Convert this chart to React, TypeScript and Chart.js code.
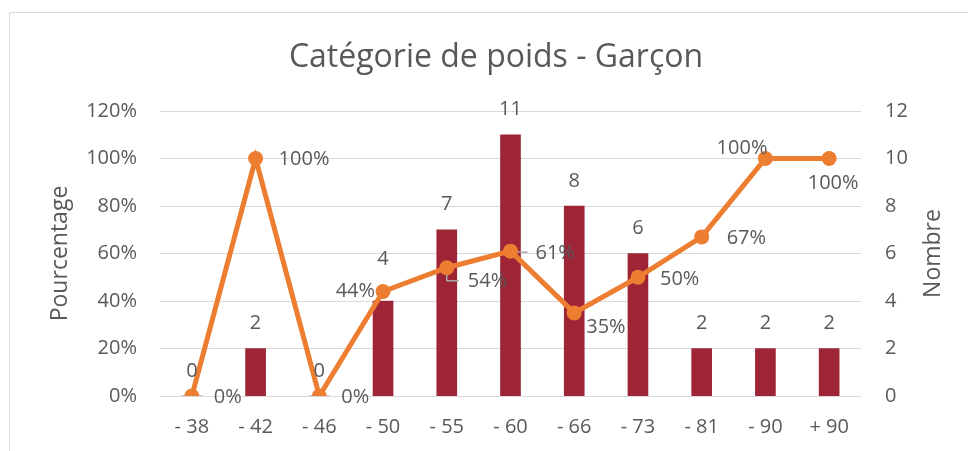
import React, { useEffect, useRef } from 'react';
import { Chart, registerables } from 'chart.js';

Chart.register(...registerables);

// ---- data ----
const categories = ['- 38', '- 42', '- 46', '- 50', '- 55', '- 60', '- 66', '- 73', '- 81', '- 90', '+ 90'];
const nombre = [0, 2, 0, 4, 7, 11, 8, 6, 2, 2, 2];
const pourcentage = [0, 1, 0, 0.44, 0.54, 0.61, 0.35, 0.5, 0.67, 1, 1];
const leftTickLabels = ['0%', '20%', '40%', '60%', '80%', '100%', '120%'];
const rightTickLabels = ['0', '2', '4', '6', '8', '10', '12'];
const chartTitle = 'Catégorie de poids - Garçon';
const leftAxisTitle = 'Pourcentage';
const rightAxisTitle = 'Nombre';

// ---- label styling (placement only) ----
const barLabelGap = [25, 25, 25, 42, 25, 25, 25, 25, 25, 25, 25];
const lineLabelAlign = ['left', 'left', 'left', 'right', 'left', 'left', 'left', 'left', 'left', 'right', 'center'];
const lineLabelDx = [22, 23, 22, -8, 21, 25, 12, 22, 25, 2, 4];
const lineLabelDy = [1, 1, 1, 0, 14, 2, 14, 2, 1, -10, 25];
const lineLabelLeader = ['', '', '', '', 'elbow', 'horiz', '', '', '', '', ''];

const TEXT = '#595959';
const GRID = '#D9D9D9';
const BAR = '#9E2536';
const LINE = '#ED7D31';
const FONT = "'Open Sans', sans-serif";

const decorPlugin = {
  id: 'decor',
  beforeDraw(chart: any) {
    const { ctx, width, height } = chart;
    ctx.save();
    ctx.fillStyle = '#ffffff';
    ctx.fillRect(0, 0, width, height);
    ctx.strokeStyle = GRID;
    ctx.lineWidth = 1;
    ctx.beginPath();
    ctx.moveTo(9.5, height);
    ctx.lineTo(9.5, 12.5);
    ctx.lineTo(width, 12.5);
    ctx.stroke();
    ctx.restore();
  },
  afterDraw(chart: any) {
    const { ctx, chartArea } = chart;
    ctx.save();
    ctx.fillStyle = TEXT;
    ctx.textAlign = 'center';
    ctx.textBaseline = 'middle';
    ctx.font = `32px ${FONT}`;
    ctx.fillText(chartTitle, 496, 58);
    const cy = (chartArea.top + chartArea.bottom) / 2;
    ctx.font = `23px ${FONT}`;
    ctx.save();
    ctx.translate(60, cy);
    ctx.rotate(-Math.PI / 2);
    ctx.fillText(leftAxisTitle, 0, 0);
    ctx.restore();
    ctx.save();
    ctx.translate(933, cy);
    ctx.rotate(-Math.PI / 2);
    ctx.fillText(rightAxisTitle, 0, 0);
    ctx.restore();
    ctx.restore();
  },
  afterDatasetsDraw(chart: any) {
    const { ctx } = chart;
    const yR = chart.scales.yR;
    ctx.save();
    ctx.font = `20px ${FONT}`;
    ctx.fillStyle = TEXT;
    ctx.textBaseline = 'middle';
    // bar labels
    const barMeta = chart.getDatasetMeta(1);
    barMeta.data.forEach((el: any, i: number) => {
      ctx.textAlign = 'center';
      ctx.fillText(String(nombre[i]), el.x, yR.getPixelForValue(nombre[i]) - barLabelGap[i]);
    });
    // line labels
    const lineMeta = chart.getDatasetMeta(0);
    lineMeta.data.forEach((el: any, i: number) => {
      const px = el.x;
      const py = el.y;
      const leader = lineLabelLeader[i];
      if (leader) {
        ctx.save();
        ctx.strokeStyle = '#A6A6A6';
        ctx.lineWidth = 1.5;
        ctx.beginPath();
        if (leader === 'elbow') {
          ctx.moveTo(px, py + 7);
          ctx.lineTo(px, py + 13);
          ctx.lineTo(px + 12, py + 13);
        } else {
          ctx.moveTo(px + 7, py + 1);
          ctx.lineTo(px + 17, py + 1);
        }
        ctx.stroke();
        ctx.restore();
      }
      ctx.textAlign = lineLabelAlign[i] as CanvasTextAlign;
      ctx.fillText(Math.round(pourcentage[i] * 100) + '%', px + lineLabelDx[i], py + lineLabelDy[i]);
    });
    ctx.restore();
  },
};

export default function App() {
  const ref = useRef<HTMLCanvasElement | null>(null);
  useEffect(() => {
    if (!ref.current) return;
    const chart = new Chart(ref.current, {
      type: 'bar',
      data: {
        labels: categories,
        datasets: [
          {
            type: 'line',
            label: 'Pourcentage',
            data: pourcentage,
            yAxisID: 'yL',
            borderColor: LINE,
            backgroundColor: LINE,
            borderWidth: 5,
            pointRadius: 7.5,
            pointBackgroundColor: LINE,
            pointBorderColor: LINE,
            pointBorderWidth: 0,
            tension: 0,
            order: 0,
          } as any,
          {
            type: 'bar',
            label: 'Nombre',
            data: nombre,
            yAxisID: 'yR',
            backgroundColor: BAR,
            barThickness: 20,
            order: 1,
          } as any,
        ],
      },
      options: {
        animation: false,
        responsive: false,
        maintainAspectRatio: false,
        layout: { padding: { top: 111, left: 0, right: 0, bottom: 0 } },
        plugins: {
          legend: { display: false },
          title: { display: false },
          tooltip: { enabled: false },
        },
        scales: {
          x: {
            grid: { display: false, drawTicks: false },
            border: { display: false },
            ticks: { color: TEXT, font: { family: FONT, size: 20 }, padding: 19, maxRotation: 0 },
            afterFit: (s: any) => { s.height = 55; },
          },
          yL: {
            position: 'left',
            min: 0,
            max: 1.2,
            grid: { color: GRID, lineWidth: 1, drawTicks: false },
            border: { display: false },
            ticks: {
              stepSize: 0.2,
              color: TEXT,
              font: { family: FONT, size: 20 },
              padding: 23,
              callback: (_v: any, i: number) => leftTickLabels[i],
            },
            afterFit: (s: any) => { s.width = 160; },
          },
          yR: {
            position: 'right',
            min: 0,
            max: 12,
            grid: { display: false, drawTicks: false },
            border: { display: false },
            ticks: {
              stepSize: 2,
              color: TEXT,
              font: { family: FONT, size: 20 },
              padding: 24,
              callback: (_v: any, i: number) => rightTickLabels[i],
            },
            afterFit: (s: any) => { s.width = 107; },
          },
        },
      } as any,
      plugins: [decorPlugin],
    });
    return () => chart.destroy();
  }, []);
  return (
    <div style={{ position: 'fixed', left: 0, top: 0, width: 968, height: 451, background: '#fff' }}>
      <canvas ref={ref} width={968} height={451} style={{ display: 'block', width: 968, height: 451 }} />
    </div>
  );
}
